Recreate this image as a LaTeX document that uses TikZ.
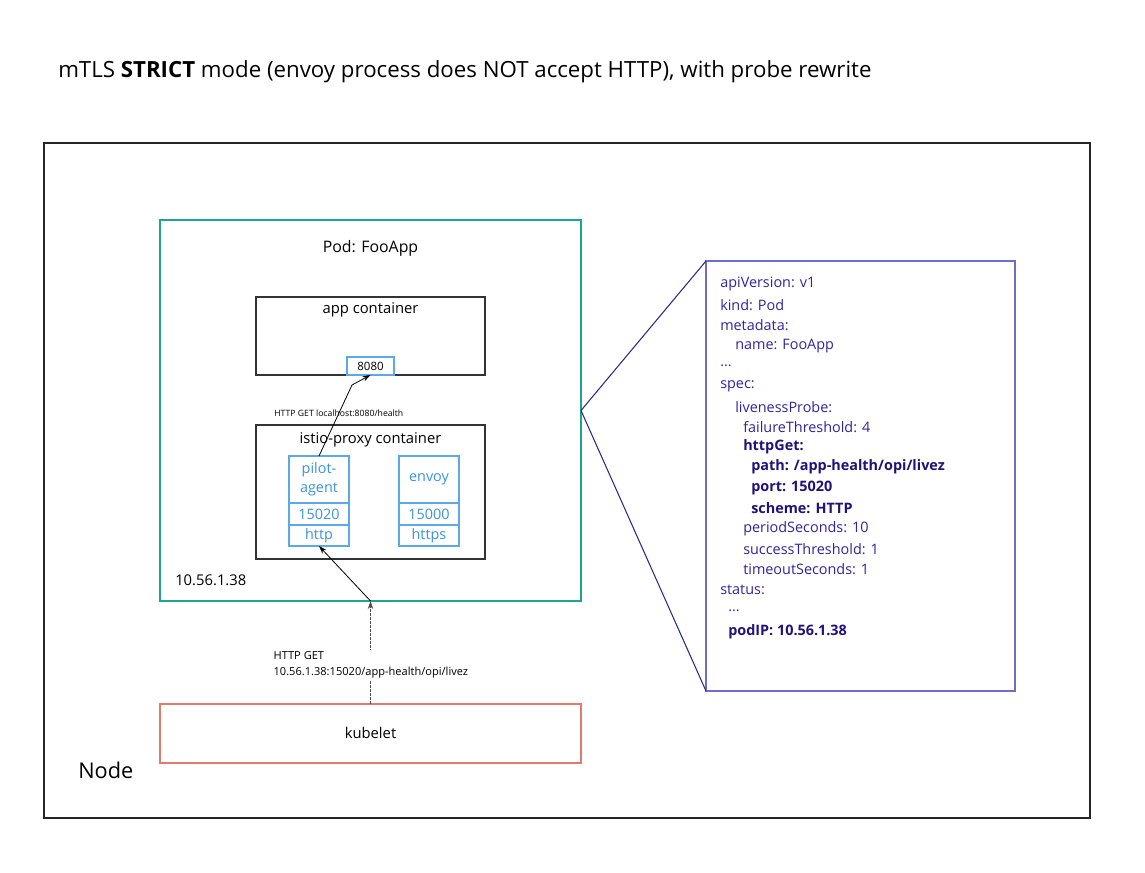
\documentclass[tikz,border=0pt]{standalone}
\usepackage{fontspec}
\setmainfont{Open Sans}
\usetikzlibrary{arrows.meta}
\definecolor{teal1}{HTML}{1FA58C}
\definecolor{salmon1}{HTML}{E07B70}
\definecolor{lblue}{HTML}{3A92DC}
\definecolor{lbord}{HTML}{5CA8E8}
\definecolor{indig}{HTML}{2E2A8C}
\definecolor{ybord}{HTML}{6E6EC8}
\definecolor{ytext}{HTML}{3322A0}
\definecolor{ybold}{HTML}{22117A}
\begin{document}
\begin{tikzpicture}[x=0.75pt,y=-0.75pt,
  rbox/.style={inner sep=0pt,outer sep=0pt},
  box/.style={rbox,draw=black!80,line width=0.8pt},
  port/.style={rbox,draw=lbord,line width=0.8pt,text=lblue,font=\fontsize{10.8}{12}\selectfont,minimum width=45pt},
  yl/.style={anchor=west,text=ytext,font=\fontsize{10.8}{12}\selectfont,inner sep=0pt},
  yb/.style={anchor=west,text=ybold,font=\fontsize{10.8}{12}\selectfont\bfseries,inner sep=0pt},
  lbl/.style={font=\fontsize{11.1}{13}\selectfont,inner sep=0pt},
  tip/.style={-{Stealth[length=6pt,width=4pt]}}]
\useasboundingbox (0,0) rectangle (1145,873);
% title
\node[anchor=west,font=\fontsize{16.7}{20}\selectfont,inner sep=0pt] (title) at (58,72) {mTLS \textbf{STRICT} mode (envoy process does NOT accept HTTP), with probe rewrite};
% node box
\node[box,draw=black!85,minimum width=784.5pt,minimum height=506.25pt] (nodebox) at (567,480.5) {};
\node[anchor=west,font=\fontsize{16.3}{20}\selectfont,inner sep=0pt] (nodelbl) at (78,770) {Node};
% pod
\node[rbox,draw=teal1,line width=2.2pt,minimum width=315.75pt,minimum height=285.75pt] (pod) at (370.5,410.5) {};
\node[font=\fontsize{11.9}{14}\selectfont,inner sep=0pt] (podlbl) at (370.5,248) {Pod: FooApp};
\node[anchor=west,lbl] (ip) at (175,580) {10.56.1.38};
% app container
\node[box,minimum width=171.75pt,minimum height=58.5pt] (app) at (370.5,336) {};
\node[lbl] (applbl) at (370.5,310) {app container};
\node[rbox,draw=lbord,line width=0.8pt,minimum width=35.25pt,minimum height=13.5pt,font=\fontsize{8.6}{10}\selectfont] (p8080) at (370.5,366) {8080};
% istio-proxy
\node[box,minimum width=171.75pt,minimum height=100.5pt] (istio) at (370.5,492) {};
\node[lbl] (istiolbl) at (370.5,440) {istio-proxy container};
\node[port,minimum height=35.25pt,align=center,font=\fontsize{10.8}{14}\selectfont] (pilot) at (319,479.5) {pilot-\\agent};
\node[port,minimum height=16.5pt] (p15020) at (319,514) {15020};
\node[port,minimum height=15.75pt] (http) at (319,535.5) {http};
\node[port,minimum height=35.25pt] (envoy) at (429,479.5) {envoy};
\node[port,minimum height=16.5pt] (p15000) at (429,514) {15000};
\node[port,minimum height=15.75pt] (https) at (429,535.5) {https};
% arrows
\coordinate (bend) at (352,385);
\draw[tip,line width=0.6pt] (pilot.north) -- (bend) -- (p8080.south);
\node[anchor=west,font=\fontsize{6.5}{8}\selectfont,inner sep=0pt] (lhl) at (274,413) {HTTP GET localhost:8080/health};
\draw[tip,line width=0.6pt] (pod.south) -- (http.south);
% kubelet
\node[rbox,draw=salmon1,line width=2.2pt,minimum width=315.75pt,minimum height=44.25pt] (kubelet) at (370.5,733.5) {};
\node[lbl] (kubeletlbl) at (370.5,733) {kubelet};
\draw[tip,line width=0.6pt,draw=black!70,dash pattern=on 2pt off 1pt] (kubelet.north) -- (pod.south);
\node[fill=white,anchor=west,align=left,font=\fontsize{8.3}{12}\selectfont,inner sep=1pt] (klbl) at (272,665) {HTTP GET\\10.56.1.38:15020/app-health/opi/livez};
% yaml
\node[rbox,draw=ybord,line width=0.8pt,minimum width=231.75pt,minimum height=322.5pt] (yaml) at (860.5,476) {};
\draw[draw=indig,line width=0.8pt] (yaml.north west) -- (pod.east) -- (yaml.south west);
\node[yl] (y1) at (720,284) {apiVersion: v1};
\node[yl] (y2) at (720,305) {kind: Pod};
\node[yl] (y3) at (720,325) {metadata:};
\node[yl] (y4) at (735,346) {name: FooApp};
\node[yl] (y5) at (720,366) {...};
\node[yl] (y6) at (720,386) {spec:};
\node[yl] (y7) at (735,407) {livenessProbe:};
\node[yl] (y8) at (743,427) {failureThreshold: 4};
\node[yb] (y9) at (743,447) {httpGet:};
\node[yb] (y10) at (751,467) {path: /app-health/opi/livez};
\node[yb] (y11) at (751,488) {port: 15020};
\node[yb] (y12) at (751,508) {scheme: HTTP};
\node[yl] (y13) at (743,529) {periodSeconds: 10};
\node[yl] (y14) at (743,549) {successThreshold: 1};
\node[yl] (y15) at (743,569) {timeoutSeconds: 1};
\node[yl] (y16) at (720,590) {status:};
\node[yl] (y17) at (728,611) {...};
\node[yb] (y18) at (728,632) {podIP: 10.56.1.38};
\end{tikzpicture}
\end{document}
